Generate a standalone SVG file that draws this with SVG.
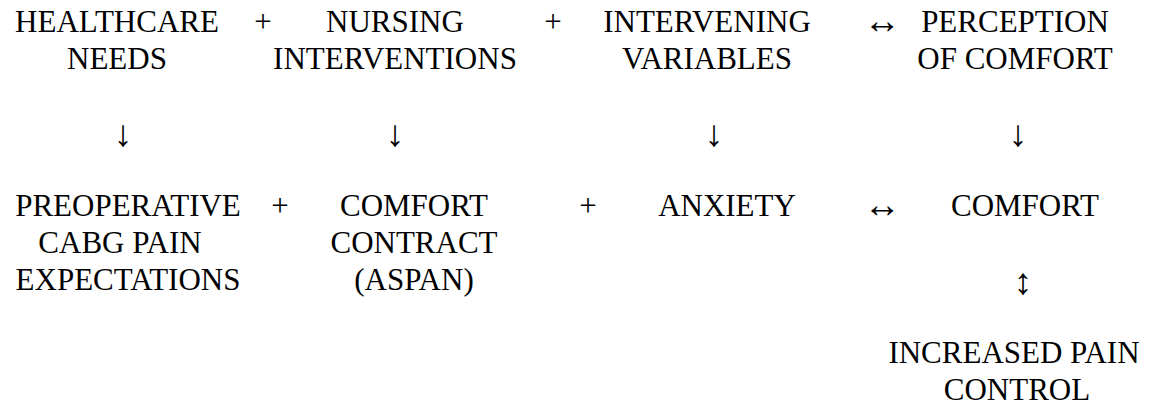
<svg xmlns="http://www.w3.org/2000/svg" width="1153" height="408" viewBox="0 0 1153 408">
<style>
text{font-family:"Liberation Serif","Times New Roman",serif;font-size:31px;fill:#000;text-anchor:middle}
.arr{font-size:37px}
</style>
<rect width="1153" height="408" fill="#fff"/>
<g id="healthcare-needs"><text x="117" y="32">HEALTHCARE</text><text x="117" y="69">NEEDS</text></g>
<g id="nursing-interventions"><text x="395" y="32">NURSING</text><text x="395" y="69">INTERVENTIONS</text></g>
<g id="intervening-variables"><text x="707" y="32">INTERVENING</text><text x="707" y="69">VARIABLES</text></g>
<g id="perception-of-comfort"><text x="1015" y="32">PERCEPTION</text><text x="1015" y="69">OF COMFORT</text></g>
<g id="preoperative"><text x="128" y="216">PREOPERATIVE</text><text x="120" y="253">CABG PAIN</text><text x="128" y="290">EXPECTATIONS</text></g>
<g id="comfort-contract"><text x="414" y="216">COMFORT</text><text x="414" y="253">CONTRACT</text><text x="414" y="290">(ASPAN)</text></g>
<g id="anxiety"><text x="727" y="216">ANXIETY</text></g>
<g id="comfort"><text x="1025" y="216">COMFORT</text></g>
<g id="increased-pain-control"><text x="1014" y="363">INCREASED PAIN</text><text x="1017" y="400">CONTROL</text></g>
<g id="connectors">
<text x="263" y="32">+</text><text x="553" y="32">+</text><text class="arr" x="882" y="33">↔</text>
<text class="arr" x="123" y="146">↓</text><text class="arr" x="395" y="146">↓</text><text class="arr" x="714" y="146">↓</text><text class="arr" x="1018" y="146">↓</text>
<text x="280" y="216">+</text><text x="588" y="216">+</text><text class="arr" x="882" y="217">↔</text>
<text class="arr" x="1023" y="294">↕</text>
</g>
</svg>
